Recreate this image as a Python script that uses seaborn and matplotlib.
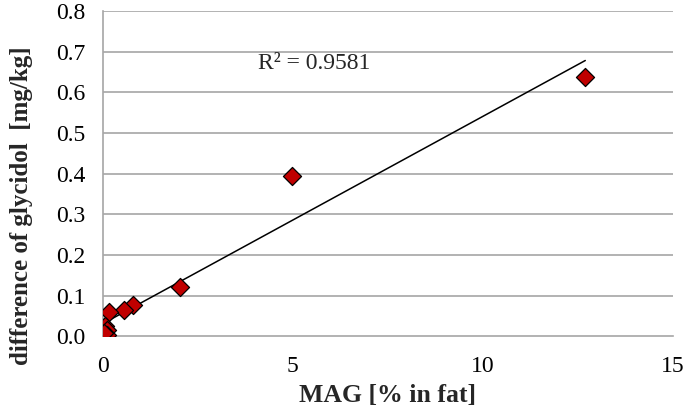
import numpy as np
import pandas as pd
import matplotlib
matplotlib.use("Agg")
import matplotlib.pyplot as plt
import seaborn as sns

# values
mag = [12.7, 4.97, 2.03, 0.8, 0.55, 0.17, 0.05, 0.1, 0.11, 0.03]
glycidol = [0.637, 0.395, 0.121, 0.076, 0.065, 0.060, 0.026, 0.014, 0.002, 0.008]
x_ticks = [0, 5, 10, 15]
y_ticks = [0.0, 0.1, 0.2, 0.3, 0.4, 0.5, 0.6, 0.7, 0.8]
r2_label = "R² = 0.9581"

df = pd.DataFrame({"mag": mag, "glycidol": glycidol})

sns.set_style("white")
plt.rcParams["font.family"] = ["Liberation Serif", "DejaVu Serif"]
grid_color = "#a6a6a6"

fig = plt.figure(figsize=(6.85, 4.13), dpi=100)
ax = fig.add_axes([0.150, 0.186, 0.832, 0.787])

ax.set_axisbelow(True)
for y in y_ticks[1:]:
    ax.axhline(y, color=grid_color, lw=1.2, zorder=0)

sns.regplot(data=df, x="mag", y="glycidol", scatter=False, ci=None,
            line_kws={"color": "black", "lw": 1.1}, ax=ax)
sns.scatterplot(data=df, x="mag", y="glycidol", marker="D", s=85,
                color="#c00000", edgecolor="black", linewidth=0.9,
                zorder=3, ax=ax)

ax.text(4.08, 0.672, r2_label, fontsize=17, va="center", ha="left")

ax.set_xlim(0, 15)
ax.set_ylim(0, 0.8)
ax.set_xticks(x_ticks)
ax.set_yticks(y_ticks)
ax.set_xticklabels([str(t) for t in x_ticks])
ax.set_yticklabels([f"{t:.1f}" for t in y_ticks])
ax.tick_params(axis="both", labelsize=17, colors=grid_color, labelcolor="black",
               length=6.5, width=1.2, direction="out")
ax.tick_params(axis="y", pad=6)
ax.tick_params(axis="x", pad=8)

for side in ["top", "right"]:
    ax.spines[side].set_visible(False)
for side in ["left", "bottom"]:
    ax.spines[side].set_color(grid_color)
    ax.spines[side].set_linewidth(1.2)

ax.set_xlabel("MAG [% in fat]", fontsize=18.5, fontweight="bold", labelpad=5)
ax.set_ylabel("difference of glycidol  [mg/kg]", fontsize=18, fontweight="bold")
ax.yaxis.set_label_coords(-0.123, 0.403)

fig.savefig("out.png", dpi=100)
